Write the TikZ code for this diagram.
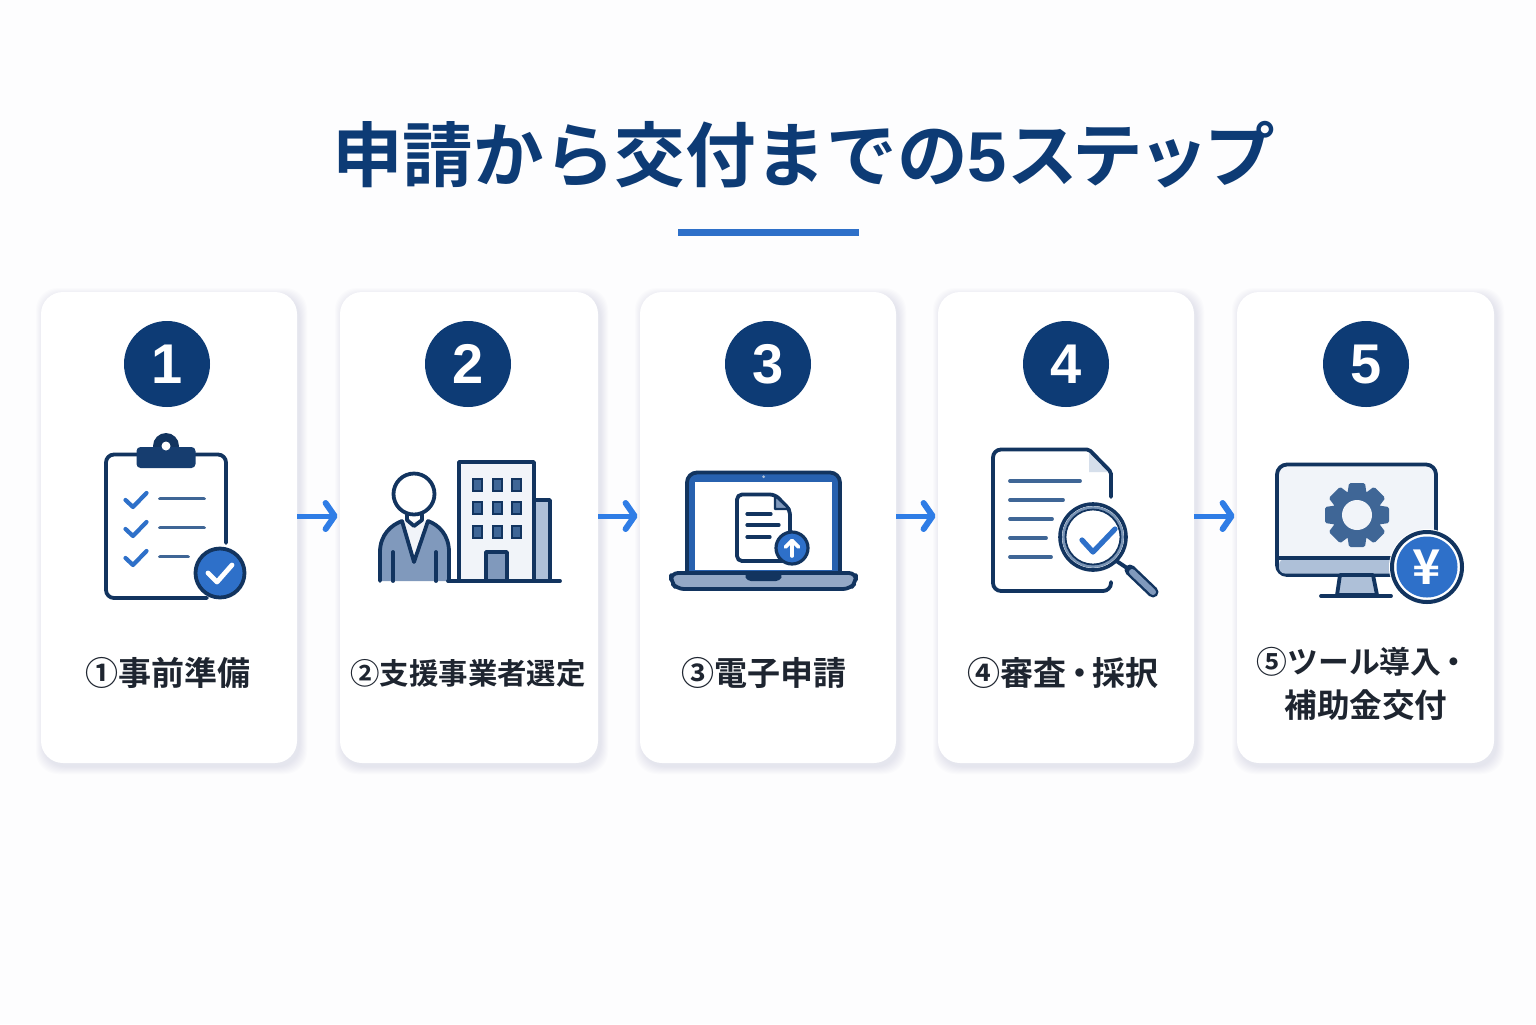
\documentclass[tikz,border=0pt]{standalone}
\usepackage{fontspec}
\setmainfont{Noto Sans CJK JP}[BoldFont={Noto Sans CJK JP Bold}]
\newfontfamily\numfont{Liberation Sans}
\usetikzlibrary{arrows.meta}
\definecolor{navy}{HTML}{0D3B75}
\definecolor{ink}{HTML}{12345F}
\definecolor{midb}{HTML}{2E70C9}
\definecolor{steel}{HTML}{3F6696}
\definecolor{arrowb}{HTML}{2F7DE6}
\definecolor{slate}{HTML}{8099BC}
\definecolor{pale}{HTML}{AEC0D8}
\definecolor{wash}{HTML}{F1F4F9}
\definecolor{lab}{HTML}{1E2530}
\definecolor{bgc}{HTML}{FDFDFE}
\definecolor{shade}{HTML}{5A6A90}
\tikzset{
  x=0.5pt,y=-0.5pt,
  card/.style={rectangle,rounded corners=11pt,fill=white,inner sep=0pt,minimum height=235.5pt},
  numdot/.style={circle,fill=navy,inner sep=0pt,minimum size=43pt,text=white,font=\numfont\fontsize{28}{28}\selectfont\bfseries},
  steplabel/.style={text=lab,inner sep=0pt,align=center},
  flow/.style={draw=arrowb,line width=2.5pt,-{Straight Barb[length=4.5pt,width=13pt,line width=3pt,round]},shorten >=1pt},
  ol/.style={draw=ink,line width=1.9pt,line cap=round,line join=round},
  thin/.style={draw=steel,line width=1.9pt,line cap=round,line join=round},
  tick/.style={draw=midb,line width=2.1pt,line cap=round,line join=round},
  wtick/.style={draw=white,line width=2.4pt,line cap=round,line join=round},
}
\newcommand{\cardshade}[4]{%
  \foreach \s in {1,2,...,8}{
    \fill[color=shade,opacity=.016,rounded corners=11pt] (#1-\s+3,#2-\s+4) rectangle (#3+\s+2,#4+\s+3);
  }%
}
\begin{document}
\begin{tikzpicture}
\useasboundingbox (0,0) rectangle (1536,1024);
\fill[bgc] (0,0) rectangle (1536,1024);
% title
\node[inner sep=0pt,text=navy,font=\fontsize{35.3}{35.3}\selectfont\bfseries] (title) at (803.5,155) {申請から交付までの{\numfont 5}{\addfontfeature{LetterSpace=-7}ステップ}};
\fill[color=midb] (678,229) rectangle (859,236);
% shadows
\cardshade{41}{292}{297}{763}
\cardshade{340}{292}{598}{763}
\cardshade{640}{292}{896}{763}
\cardshade{938}{292}{1194}{763}
\cardshade{1237}{292}{1494}{763}
% cards
\node[card,minimum width=128pt] (c1) at (169,527.5) {};
\node[card,minimum width=129pt] (c2) at (469,527.5) {};
\node[card,minimum width=128pt] (c3) at (768,527.5) {};
\node[card,minimum width=128pt] (c4) at (1066,527.5) {};
\node[card,minimum width=128.5pt] (c5) at (1365.5,527.5) {};
% connectors
\draw[flow] (c1.east |- 0,516) -- (c2.west |- 0,516);
\draw[flow] (c2.east |- 0,516) -- (c3.west |- 0,516);
\draw[flow] (c3.east |- 0,516) -- (c4.west |- 0,516);
\draw[flow] (c4.east |- 0,516) -- (c5.west |- 0,516);
% numbers
\node[numdot] (n1) at (167,364) {1};
\node[numdot] (n2) at (468,364) {2};
\node[numdot] (n3) at (768,364) {3};
\node[numdot] (n4) at (1066,364) {4};
\node[numdot] (n5) at (1366,364) {5};
% labels
\node[steplabel,font=\fontsize{16.5}{16.5}\selectfont\bfseries] (l1) at (168,673) {①事前準備};
\node[steplabel,font=\fontsize{14.7}{14.7}\selectfont\bfseries] (l2) at (468,673) {②支援事業者選定};
\node[steplabel,font=\fontsize{16.5}{16.5}\selectfont\bfseries] (l3) at (764,673) {③電子申請};
\node[steplabel,font=\fontsize{16.5}{16.5}\selectfont\bfseries] (l4) at (1063,673) {④審査\hspace{-.12em}・\hspace{-.12em}採択};
\node[steplabel,font=\fontsize{15.4}{15.4}\selectfont\bfseries] (l5a) at (1363,662) {⑤ツール導入\hspace{-.1em}・};
\node[steplabel,font=\fontsize{16.3}{16.3}\selectfont\bfseries] (l5b) at (1366,705) {補助金交付};
% ---- icon 1 clipboard
\draw[ol,rounded corners=4pt] (226,543) -- (226,454.5) -- (106,454.5) -- (106,598) -- (207,598);
\fill[color=ink] (166,446) circle (13);
\fill[color=ink!85!midb,rounded corners=2pt] (136.5,447) rectangle (195.5,468);
\fill[color=white] (166,446) circle (4.5);
\foreach \d in {0,29,58}{
  \draw[tick] (125.5,500+\d) -- (133,507+\d) -- (146.5,493+\d);
}
\draw[thin] (160,498.5) -- (204,498.5);
\draw[thin] (160,527.5) -- (204,527.5);
\draw[thin] (160,556.5) -- (188,556.5);
\fill[color=midb,draw=ink,line width=1.9pt] (220,573) circle (24.5);
\draw[wtick] (208,573) -- (217,582) -- (232,565);
% ---- icon 2 person and building
\fill[color=slate] (380,581) -- (380,552) .. controls (380,535) and (391,525) .. (402,521) -- (428,521) .. controls (439,525) and (449,535) .. (449,552) -- (449,581) -- cycle;
\fill[color=wash] (402,521) -- (414,562) -- (428,521) -- cycle;
\draw[ol] (380,581) -- (380,552) .. controls (380,535) and (391,525) .. (402,521) -- (414,562) -- (428,521) .. controls (439,525) and (449,535) .. (449,552) -- (449,581);
\draw[ol] (407,513) -- (407,520) -- (414,526) -- (422,520) -- (422,513);
\draw[ol] (393,552) -- (393,581);
\draw[ol] (436,552) -- (436,581);
\fill[color=white,draw=ink,line width=1.9pt] (414,494) circle (20.5);
\filldraw[fill=pale,ol] (534,500) -- (550,500) -- (550,581) -- (534,581) -- cycle;
\filldraw[fill=wash,ol] (459,581) -- (459,462) -- (534,462) -- (534,581) -- cycle;
\foreach \wx in {477,497,516}{
  \foreach \wy in {485,508,532}{
    \filldraw[fill=steel,draw=ink,line width=1pt] (\wx-4.5,\wy-6) rectangle (\wx+4.5,\wy+6);
  }
}
\filldraw[fill=slate,ol] (486,581) -- (486,552) -- (507,552) -- (507,581);
\draw[ol] (448,581) -- (560,581);
% ---- icon 3 laptop
\filldraw[fill=midb!75!ink,ol,rounded corners=5pt] (687,574) -- (687,472.5) -- (840,472.5) -- (840,574);
\fill[color=white] (695,482) rectangle (832,570);
\fill[color=pale] (763.7,476.7) circle (1.5);
\filldraw[fill=slate!85!white,ol,rounded corners=3.5pt] (671,573) -- (856,573) -- (856,582) -- (850,589) -- (677,589) -- (671,582) -- cycle;
\fill[color=ink,rounded corners=2pt] (744,574) -- (783,574) -- (780,581) -- (747,581) -- cycle;
\filldraw[fill=white,ol,rounded corners=2.5pt] (775,494.5) -- (737,494.5) -- (737,561) -- (790,561) -- (790,510) -- cycle;
\filldraw[fill=slate,draw=ink,line width=1.2pt,line join=round] (775,495.5) -- (775,509) -- (789.5,509) -- cycle;
\draw[draw=ink,line width=1.6pt,line cap=round] (747,514) -- (771,514);
\draw[draw=ink,line width=1.6pt,line cap=round] (747,525) -- (779,525);
\draw[draw=ink,line width=1.6pt,line cap=round] (747,537) -- (770,537);
\fill[color=midb,draw=ink,line width=1.6pt] (792,548) circle (16);
\draw[draw=white,line width=1.8pt,line cap=round,line join=round] (792,556) -- (792,541);
\draw[draw=white,line width=1.8pt,line cap=round,line join=round] (785.5,547) -- (792,540.5) -- (798.5,547);
% ---- icon 4 document and magnifier
\fill[color=pale!50!white] (1089,450) -- (1089,472) -- (1110,472) -- cycle;
\draw[ol,rounded corners=1pt] (1111,497) -- (1111,472) -- (1089,449.5) [rounded corners=4pt] -- (993,449.5) -- (993,591) -- (1111,591) -- (1111,582);
\foreach \yy/\xx in {481/1080,500/1063,519/1052,538/1046,557/1051}{
  \draw[thin] (1010,\yy) -- (\xx,\yy);
}
\draw[draw=ink,line width=2pt] (1115,560) -- (1130,570);
\draw[draw=ink,line width=5.5pt,line cap=round] (1130,570) -- (1153,592);
\draw[draw=slate,line width=3pt,line cap=round] (1132,572) -- (1153,592);
\fill[color=white,opacity=.75] (1093,537) circle (32);
\draw[draw=ink,line width=1.8pt] (1093,537) circle (33);
\draw[draw=steel!70!white,line width=1.3pt] (1093,537) circle (29.5);
\draw[draw=ink,line width=.9pt] (1093,537) circle (27.5);
\draw[draw=midb,line width=2.6pt,line cap=round,line join=round] (1082,540) -- (1093,552) -- (1115,529);
% ---- icon 5 monitor
\filldraw[fill=wash,ol,rounded corners=5pt] (1277,464.5) rectangle (1436,575);
\fill[color=pale,rounded corners=3pt] (1279,559) rectangle (1434,573.5);
\draw[ol] (1277.5,558) -- (1435.5,558);
\filldraw[fill=pale,ol] (1340,575) -- (1337,595) -- (1377,595) -- (1373,575) -- cycle;
\draw[ol] (1321,596) -- (1391,596);
\foreach \a in {0,45,...,315}{
  \fill[color=steel,rotate around={\a:(1357,515)},rounded corners=.8pt] (1349,483) -- (1365,483) -- (1367,497) -- (1347,497) -- cycle;
}
\fill[color=steel] (1357,515) circle (25);
\fill[color=wash] (1357,515) circle (15);
\fill[color=white] (1427,567) circle (38);
\draw[draw=ink,line width=2pt] (1427,567) circle (35);
\fill[color=midb] (1427,567) circle (30.5);
\node[inner sep=0pt,text=white,font=\fontsize{24}{24}\selectfont\bfseries] (yen) at (1427,567) {¥};
\end{tikzpicture}
\end{document}
